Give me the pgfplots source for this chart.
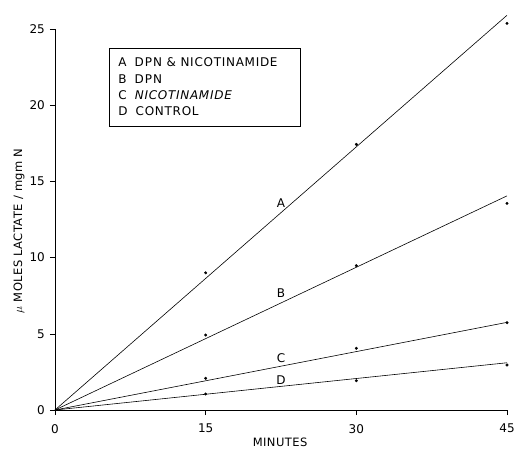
\documentclass[border=0pt]{standalone}
\usepackage{pgfplots}
\pgfplotsset{compat=1.18}
\usepackage{fontspec}
\setmainfont{DejaVu Sans}
\newfontfamily\spaced[LetterSpace=4]{DejaVu Sans}
\newfontfamily\legfont[LetterSpace=6]{DejaVu Sans}
\begin{document}
\fontsize{12bp}{14bp}\selectfont
\begin{tikzpicture}
\path[use as bounding box] (-55bp,-40bp) rectangle (462bp,410bp);
\begin{axis}[
  scale only axis, width=452bp, height=381bp,
  xmin=0, xmax=45, ymin=0, ymax=25,
  axis x line=bottom, axis y line=left,
  axis line style={-, line width=0.6pt},
  xtick={0,15,30,45}, ytick={0,5,10,15,20,25},
  tick align=outside, major tick length=5bp,
  tick style={black, line width=0.6pt},
  clip=false,
  /pgf/number format/assume math mode=true,
  ticklabel style={font=\fontsize{12bp}{14bp}\selectfont},
  xticklabel style={yshift=-5bp},
  yticklabel style={xshift=-1bp},
  xlabel={MINUTES},
  ylabel={$\mu$ MOLES LACTATE / mgm N},
  xlabel style={at={(rel axis cs:0.498,0)}, anchor=center, yshift=-32bp, font=\spaced\fontsize{11.5bp}{14bp}\selectfont},
  ylabel style={at={(rel axis cs:0,0.47)}, anchor=center, yshift=36bp, font=\spaced\fontsize{11.5bp}{14bp}\selectfont},
]
% fitted lines
\addplot[black, line width=0.6pt] coordinates {(0,0) (45,25.9)};
\addplot[black, line width=0.6pt] coordinates {(0,0) (45,14.05)};
\addplot[black, line width=0.6pt] coordinates {(0,0) (45,5.75)};
\addplot[black, line width=0.6pt] coordinates {(0,0) (45,3.1)};
% data points
\addplot[only marks, mark=*, mark size=1.3pt, black] coordinates {(15,9.0) (30,17.43) (45,25.37)};
\addplot[only marks, mark=*, mark size=1.3pt, black] coordinates {(15,4.92) (30,9.47) (45,13.56)};
\addplot[only marks, mark=*, mark size=1.3pt, black] coordinates {(15,2.08) (30,4.05) (45,5.73)};
\addplot[only marks, mark=*, mark size=1.3pt, black] coordinates {(15,1.05) (30,1.92) (45,2.95)};
% curve labels
\node[font=\fontsize{12bp}{14bp}\selectfont] at (axis cs:22.5,13.6) {A};
\node[font=\fontsize{12bp}{14bp}\selectfont] at (axis cs:22.5,7.66) {B};
\node[font=\fontsize{12bp}{14bp}\selectfont] at (axis cs:22.5,3.43) {C};
\node[font=\fontsize{12bp}{14bp}\selectfont] at (axis cs:22.5,1.97) {D};
% legend box
\draw[line width=0.5pt] (axis cs:5.38,23.75) rectangle (axis cs:24.4,18.64);
\node[anchor=west, font=\legfont\fontsize{12bp}{14bp}\selectfont] at (axis cs:5.9,22.83) {A\hspace{8bp}D\kern1bp P\kern1bp N \& NICOTINAMIDE};
\node[anchor=west, font=\legfont\fontsize{12bp}{14bp}\selectfont] at (axis cs:5.9,21.72) {B\hspace{8bp}D\kern1bp P\kern1bp N};
\node[anchor=west, font=\legfont\fontsize{12bp}{14bp}\selectfont] at (axis cs:5.9,20.67) {C\hspace{8bp}\textit{NICOTINAMIDE}};
\node[anchor=west, font=\legfont\fontsize{12bp}{14bp}\selectfont] at (axis cs:5.9,19.62) {D\hspace{8bp}CONTROL};
\end{axis}
\end{tikzpicture}
\end{document}
